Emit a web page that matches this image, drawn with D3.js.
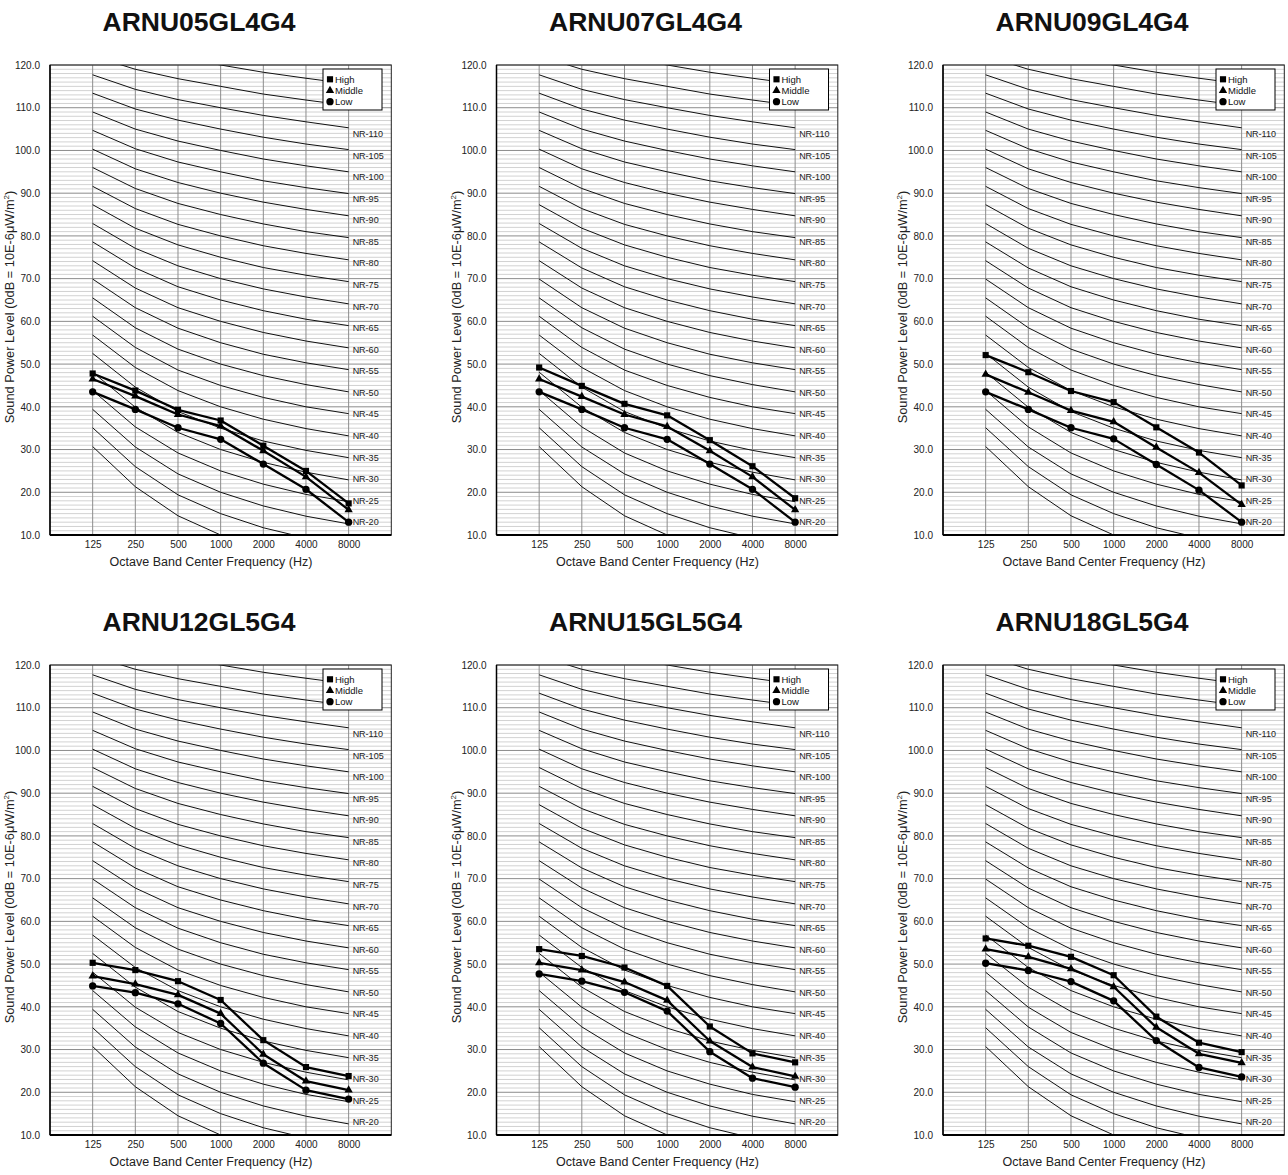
<!DOCTYPE html>
<html><head><meta charset="utf-8">
<script src="https://cdn.jsdelivr.net/npm/d3@7"></script>
<style>
body{margin:0;background:#fff}
svg{display:block}
text{font-family:"Liberation Sans",Arial,sans-serif}
</style>
</head><body>
<svg id="c" width="1288" height="1175"></svg>
<script>
// ---------- data ----------
const models = ["ARNU05GL4G4","ARNU07GL4G4","ARNU09GL4G4","ARNU12GL5G4","ARNU15GL5G4","ARNU18GL5G4"];
const frequencies = ["125","250","500","1000","2000","4000","8000"];
const seriesNames = ["High","Middle","Low"];
const yTicks = [10,20,30,40,50,60,70,80,90,100,110,120];

// sound power levels (dB), one row per model
const highLevels = [
  [47.8,43.8,39.3,36.8,30.9,25.0,17.4],
  [49.2,44.9,40.7,38.0,32.2,26.1,18.6],
  [52.1,48.1,43.7,41.1,35.2,29.3,21.6],
  [50.3,48.6,46.0,41.6,32.2,25.9,23.8],
  [53.5,51.9,49.2,44.9,35.4,29.1,27.0],
  [56.0,54.3,51.7,47.4,37.7,31.6,29.4]
];
const middleLevels = [
  [46.5,42.5,38.2,35.5,29.7,23.6,15.9],
  [46.5,42.4,38.2,35.4,29.7,23.6,15.9],
  [47.6,43.4,39.1,36.5,30.5,24.6,17.1],
  [47.2,45.3,42.8,38.4,28.9,22.6,20.5],
  [50.3,48.6,45.8,41.5,32.0,25.9,23.7],
  [53.5,51.7,48.9,44.7,35.2,29.0,26.9]
];
const lowLevels = [
  [43.5,39.4,35.1,32.4,26.6,20.7,13.0],
  [43.5,39.4,35.1,32.4,26.6,20.7,13.0],
  [43.5,39.4,35.1,32.5,26.5,20.5,13.0],
  [44.9,43.3,40.7,36.1,26.8,20.5,18.4],
  [47.7,46.0,43.4,39.0,29.5,23.3,21.2],
  [50.2,48.5,45.9,41.4,32.1,25.8,23.6]
];

// NR reference curves (dB at 125..8000 Hz)
const nrNumbers = [10,15,20,25,30,35,40,45,50,55,60,65,70,75,80,85,90,95,100,105,110,115,120];
const nrCurves = [
  [30.7,21.3,14.5,10.0,6.7,4.2,2.3],
  [35.1,26.0,19.4,15.0,11.7,9.3,7.5],
  [39.4,30.6,24.3,20.0,16.8,14.4,12.6],
  [43.8,35.3,29.2,25.0,21.9,19.5,17.8],
  [48.1,39.9,34.0,30.0,27.0,24.7,22.9],
  [52.5,44.6,38.9,35.0,32.0,29.8,28.1],
  [56.8,49.2,43.8,40.0,37.1,34.9,33.2],
  [61.2,53.9,48.6,45.0,42.2,40.0,38.4],
  [65.5,58.5,53.5,50.0,47.3,45.2,43.5],
  [69.9,63.2,58.4,55.0,52.3,50.3,48.7],
  [74.2,67.8,63.2,60.0,57.4,55.4,53.8],
  [78.6,72.5,68.1,65.0,62.5,60.5,59.0],
  [82.9,77.1,73.0,70.0,67.6,65.7,64.1],
  [87.3,81.8,77.9,75.0,72.6,70.8,69.3],
  [91.6,86.4,82.7,80.0,77.7,75.9,74.4],
  [96.0,91.1,87.6,85.0,82.8,81.0,79.6],
  [100.3,95.7,92.5,90.0,87.9,86.2,84.7],
  [104.7,100.4,97.3,95.0,92.9,91.3,89.9],
  [109.0,105.0,102.2,100.0,98.0,96.4,95.0],
  [113.4,109.7,107.1,105.0,103.1,101.5,100.2],
  [117.7,114.3,111.9,110.0,108.2,106.7,105.3],
  [122.1,119.0,116.8,115.0,113.2,111.8,110.5],
  [126.4,123.6,121.7,120.0,118.3,116.9,115.6]
];
const nrLabels = [20,25,30,35,40,45,50,55,60,65,70,75,80,85,90,95,100,105,110];

// ---------- drawing ----------
const svg = d3.select("#c");
const PW = 341.3, PH = 470;
const lefts = [50, 496.5, 943], tops = [65, 665];
const markerSym = {
  High: d3.symbol().type(d3.symbolSquare).size(38),
  Middle: d3.symbol().type(d3.symbolTriangle).size(30),
  Low: d3.symbol().type(d3.symbolCircle).size(42)
};

models.forEach((model, k) => {
  const col = k % 3, row = Math.floor(k / 3);
  const g = svg.append("g").attr("transform", `translate(${lefts[col]},${tops[row]})`);
  const x = d3.scaleLinear().domain([0, 8]).range([0, PW]);
  const y = d3.scaleLinear().domain([10, 120]).range([PH, 0]);

  const cid = "clip" + k;
  g.append("clipPath").attr("id", cid).append("rect").attr("width", PW).attr("height", PH);

  // minor horizontal grid
  g.append("g").selectAll("line").data(y.ticks(110).filter(v => v % 10 !== 0)).join("line")
    .attr("x1", 0).attr("x2", PW).attr("y1", d => y(d)).attr("y2", d => y(d))
    .attr("stroke", "#d2d2d2").attr("stroke-width", 1);
  // major horizontal grid
  g.append("g").selectAll("line").data(yTicks).join("line")
    .attr("x1", 0).attr("x2", PW).attr("y1", d => y(d)).attr("y2", d => y(d))
    .attr("stroke", "#8c8c8c").attr("stroke-width", 1);
  // vertical grid
  g.append("g").selectAll("line").data(frequencies.map((f, i) => i + 1)).join("line")
    .attr("x1", d => x(d)).attr("x2", d => x(d)).attr("y1", 0).attr("y2", PH)
    .attr("stroke", "#8c8c8c").attr("stroke-width", 1);

  // NR curves
  const nrLine = d3.line().x((d, i) => x(i + 1)).y(d => y(d));
  g.append("g").attr("clip-path", `url(#${cid})`).selectAll("path").data(nrCurves).join("path")
    .attr("d", nrLine).attr("fill", "none").attr("stroke", "#111").attr("stroke-width", 1);

  // frame
  g.append("rect").attr("width", PW).attr("height", PH).attr("fill", "none")
    .attr("stroke", "#222").attr("stroke-width", 1);
  g.append("line").attr("x1", 0).attr("x2", 0).attr("y1", 0).attr("y2", PH)
    .attr("stroke", "#000").attr("stroke-width", 1.5);
  g.append("line").attr("x1", 0).attr("x2", PW).attr("y1", PH).attr("y2", PH)
    .attr("stroke", "#000").attr("stroke-width", 2);

  // NR labels
  g.append("g").selectAll("text").data(nrLabels).join("text")
    .attr("x", x(7) + 4).attr("y", d => y(d * 1.01 - 7.2)).attr("dy", "0.35em")
    .attr("font-size", 9).attr("fill", "#222").text(d => "NR-" + d);

  // axes
  const ya = g.append("g").call(d3.axisLeft(y).tickValues(yTicks).tickFormat(d3.format(".1f")).tickSize(0).tickPadding(10));
  ya.select(".domain").remove();
  ya.selectAll("text").attr("font-size", 10).attr("fill", "#222").style("font-family", '"Liberation Sans",Arial,sans-serif');
  const xa = g.append("g").attr("transform", `translate(0,${PH})`)
    .call(d3.axisBottom(x).tickValues(frequencies.map((f, i) => i + 1)).tickFormat(i => frequencies[i - 1]).tickSize(0).tickPadding(6));
  xa.select(".domain").remove();
  xa.selectAll("text").attr("font-size", 10).attr("fill", "#222").style("font-family", '"Liberation Sans",Arial,sans-serif');

  // data series
  const seriesData = [highLevels[k], middleLevels[k], lowLevels[k]];
  const dLine = d3.line().x((d, i) => x(i + 1)).y(d => y(d));
  seriesData.forEach((vals, s) => {
    g.append("path").datum(vals).attr("d", dLine).attr("fill", "none")
      .attr("stroke", "#000").attr("stroke-width", 2.3).attr("stroke-linejoin", "round");
    g.append("g").selectAll("path").data(vals).join("path")
      .attr("transform", (d, i) => `translate(${x(i + 1)},${y(d)})`)
      .attr("d", markerSym[seriesNames[s]]()).attr("fill", "#000");
  });

  // legend
  const lg = g.append("g").attr("transform", "translate(273,4)");
  lg.append("rect").attr("width", 59).attr("height", 41).attr("fill", "#fff")
    .attr("stroke", "#000").attr("stroke-width", 1);
  seriesNames.forEach((nm, s) => {
    const yy = 10.3 + s * 11.2;
    lg.append("path").attr("transform", `translate(7,${yy})`)
      .attr("d", markerSym[nm]()).attr("fill", "#000");
    lg.append("text").attr("x", 12).attr("y", yy).attr("dy", "0.35em")
      .attr("font-size", 9.5).attr("fill", "#111").text(nm);
  });

  // titles
  g.append("text").attr("x", 149).attr("y", -34).attr("text-anchor", "middle")
    .attr("font-size", 26.5).attr("font-weight", "bold").attr("fill", "#111").text(model);
  g.append("text").attr("x", 161).attr("y", PH + 31).attr("text-anchor", "middle")
    .attr("font-size", 12.5).attr("fill", "#222").text("Octave Band Center Frequency (Hz)");
  const yl = g.append("text").attr("transform", `translate(-36,242) rotate(-90)`).attr("text-anchor", "middle")
    .attr("font-size", 12.8).attr("fill", "#222");
  yl.append("tspan").text("Sound Power Level (0dB = 10E-6μW/m");
  yl.append("tspan").attr("font-size", 8).attr("dy", -5).text("2");
  yl.append("tspan").attr("dy", 5).text(")");
});
</script>
</body></html>
